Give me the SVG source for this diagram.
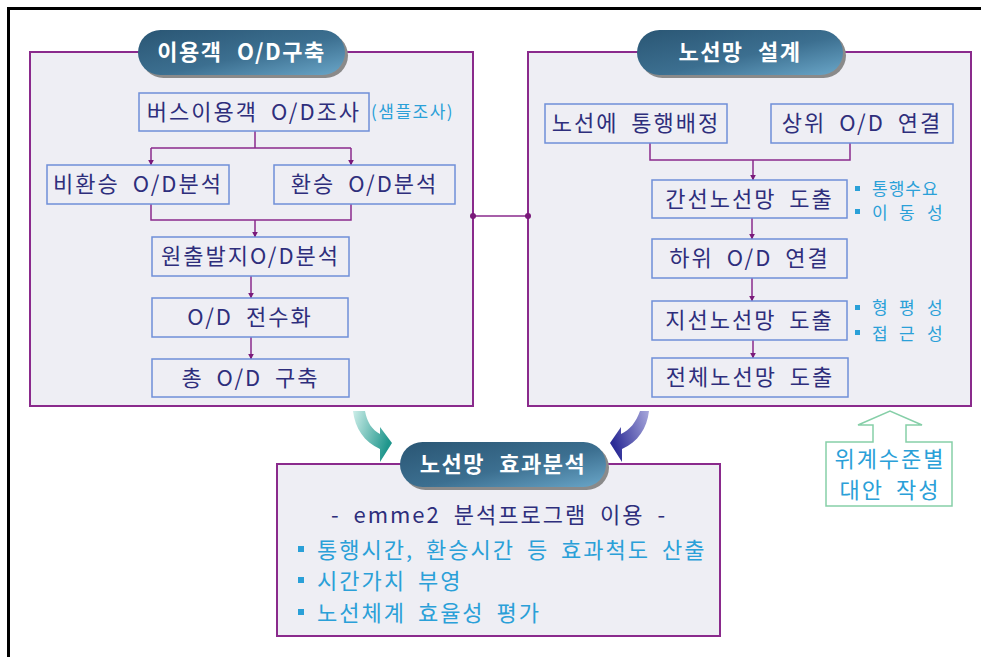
<svg xmlns="http://www.w3.org/2000/svg" width="981" height="657" viewBox="0 0 981 657">
<defs>
<linearGradient id="pill" x1="0" y1="0" x2="1" y2="1">
<stop offset="0" stop-color="#2a5674"/>
<stop offset="0.55" stop-color="#3c6f90"/>
<stop offset="1" stop-color="#6aa6c8"/>
</linearGradient>
<linearGradient id="tealg" x1="0" y1="0" x2="1" y2="0.4">
<stop offset="0" stop-color="#cdeee9"/>
<stop offset="1" stop-color="#1f968c"/>
</linearGradient>
<linearGradient id="blueg" x1="1" y1="0" x2="0" y2="0.4">
<stop offset="0" stop-color="#a8a8dc"/>
<stop offset="1" stop-color="#2c2c96"/>
</linearGradient>
<marker id="ah" viewBox="0 0 10 10" refX="9" refY="5" markerWidth="6" markerHeight="6" markerUnits="userSpaceOnUse" orient="auto">
<path d="M0,0 L10,5 L0,10 z" fill="#7a1a7a"/>
</marker>
</defs>
<style>
.panel{fill:#eeeef4;stroke:#8a2a8c;stroke-width:2}
.box{fill:#eeeef4;stroke:#6f8fd8;stroke-width:1.5}
.t{font-family:"Noto Sans CJK KR","Noto Sans",sans-serif;font-size:22px;fill:#2e2e7c;text-anchor:middle;letter-spacing:2px;word-spacing:6px}
.lb{font-family:"Noto Sans CJK KR","Noto Sans",sans-serif;font-size:22px;fill:#2aa0d8;letter-spacing:2px;word-spacing:5px}
.sm{font-family:"Noto Sans CJK KR","Noto Sans",sans-serif;font-size:17px;fill:#2aa0d8}
.ttl{font-family:"Noto Sans CJK KR","Noto Sans",sans-serif;font-size:22px;font-weight:bold;fill:#ffffff;text-anchor:middle;letter-spacing:1.5px;word-spacing:8px}
.ln{fill:none;stroke:#8a2a8c;stroke-width:1.5}
.ar{fill:none;stroke:#8a2a8c;stroke-width:1.5;marker-end:url(#ah)}
.sq{fill:#2aa0d8}
</style>
<rect width="981" height="657" fill="#ffffff"/>
<path d="M8.5,660 L8.5,8.5 L990,8.5" fill="none" stroke="#000" stroke-width="3"/>

<g id="panel-left">
<rect class="panel" x="30" y="52" width="443" height="354"/>
<rect x="141" y="33" width="207" height="45" rx="22.5" fill="#8a8a8a"/>
<rect x="138" y="30" width="207" height="45" rx="22.5" fill="url(#pill)"/>
<text class="ttl" x="241.5" y="60">이용객 O/D구축</text>
</g>
<g id="panel-right">
<rect class="panel" x="528" y="52" width="443" height="354"/>
<rect x="640" y="33" width="206" height="45" rx="22.5" fill="#8a8a8a"/>
<rect x="637" y="30" width="206" height="45" rx="22.5" fill="url(#pill)"/>
<text class="ttl" x="740" y="60">노선망 설계</text>
</g>
<g id="panel-bottom">
<rect class="panel" x="277" y="464" width="443" height="172"/>
<rect x="403" y="445" width="206" height="45" rx="22.5" fill="#8a8a8a"/>
<rect x="400" y="442" width="206" height="45" rx="22.5" fill="url(#pill)"/>
<text class="ttl" x="503" y="472">노선망 효과분석</text>
<text class="t" x="499" y="523" word-spacing="9">- emme2 분석프로그램 이용 -</text>
<rect class="sq" x="298" y="546" width="6" height="6"/>
<text class="lb" x="317" y="558">통행시간, 환승시간 등 효과척도 산출</text>
<rect class="sq" x="298" y="577" width="6" height="6"/>
<text class="lb" x="317" y="589">시간가치 부영</text>
<rect class="sq" x="298" y="609" width="6" height="6"/>
<text class="lb" x="317" y="621">노선체계 효율성 평가</text>
</g>

<g id="connectors">
<path class="ln" d="M255,131 V148 M151,148 H351"/>
<path class="ar" d="M151,148 V165"/>
<path class="ar" d="M351,148 V165"/>
<path class="ln" d="M151,204 V220 H351 V204"/>
<path class="ar" d="M255,220 V237"/>
<path class="ar" d="M251,276 V298"/>
<path class="ar" d="M251,337 V359"/>
<path class="ln" d="M473,216 H528"/>
<circle cx="473" cy="216" r="3" fill="#7a1a7a"/>
<circle cx="528" cy="216" r="3" fill="#7a1a7a"/>
<path class="ln" d="M650,143 V160 H850 V143"/>
<path class="ar" d="M753,160 V180"/>
<path class="ar" d="M752,218 V239"/>
<path class="ar" d="M752,278 V301"/>
<path class="ar" d="M753,340 V358"/>
<path d="M353,411 C355,428 364,442 380,449 L380,462 L392,443 L380,427 L380,434 C372,430 367,422 365,411 z" fill="url(#tealg)"/>
<path d="M649,411 C647,428 638,442 622,449 L622,462 L610,443 L621,427 L621,434 C630,430 636,422 640,411 z" fill="url(#blueg)"/>
</g>

<g id="n1"><rect class="box" x="139" y="93" width="230" height="38"/><text class="t" x="254" y="120">버스이용객 O/D조사</text></g>
<text class="sm" x="371" y="118" letter-spacing="1.5">(샘플조사)</text>
<g id="n2"><rect class="box" x="47" y="165" width="182" height="39"/><text class="t" x="138" y="192">비환승 O/D분석</text></g>
<g id="n3"><rect class="box" x="274" y="165" width="181" height="39"/><text class="t" x="364.5" y="192">환승 O/D분석</text></g>
<g id="n4"><rect class="box" x="152" y="237" width="197" height="39"/><text class="t" x="250.5" y="264">원출발지O/D분석</text></g>
<g id="n5"><rect class="box" x="152" y="298" width="196" height="39"/><text class="t" x="250" y="325">O/D 전수화</text></g>
<g id="n6"><rect class="box" x="152" y="359" width="197" height="38"/><text class="t" x="250.5" y="386">총 O/D 구축</text></g>

<g id="n7"><rect class="box" x="545" y="104" width="182" height="39"/><text class="t" x="636" y="131">노선에 통행배정</text></g>
<g id="n8"><rect class="box" x="771" y="104" width="182" height="39"/><text class="t" x="862" y="131">상위 O/D 연결</text></g>
<g id="n9"><rect class="box" x="652" y="180" width="195" height="38"/><text class="t" x="749.5" y="207">간선노선망 도출</text></g>
<g id="n10"><rect class="box" x="652" y="239" width="195" height="39"/><text class="t" x="749.5" y="266">하위 O/D 연결</text></g>
<g id="n11"><rect class="box" x="652" y="301" width="195" height="39"/><text class="t" x="749.5" y="328">지선노선망 도출</text></g>
<g id="n12"><rect class="box" x="652" y="358" width="196" height="39"/><text class="t" x="750" y="385">전체노선망 도출</text></g>

<g id="notes-right">
<rect class="sq" x="855" y="186" width="5" height="5"/>
<text class="sm" x="872" y="195" letter-spacing="1">통행수요</text>
<rect class="sq" x="855" y="209" width="5" height="5"/>
<text class="sm" x="872 899 927" y="219">이동성</text>
<rect class="sq" x="855" y="305" width="5" height="5"/>
<text class="sm" x="872 899 927" y="314">형평성</text>
<rect class="sq" x="855" y="330" width="5" height="5"/>
<text class="sm" x="872 899 927" y="340">접근성</text>
</g>

<g id="n13">
<path d="M826,442 H873 V425 H858 L890,411 L922,425 H906 V442 H952 V506 H826 z" fill="#ffffff" stroke="#86cfa8" stroke-width="1.5"/>
<text class="lb" x="890" y="467" text-anchor="middle" font-size="20" letter-spacing="1.5">위계수준별</text>
<text class="lb" x="890" y="498" text-anchor="middle" font-size="20" letter-spacing="1.5">대안 작성</text>
</g>
</svg>
